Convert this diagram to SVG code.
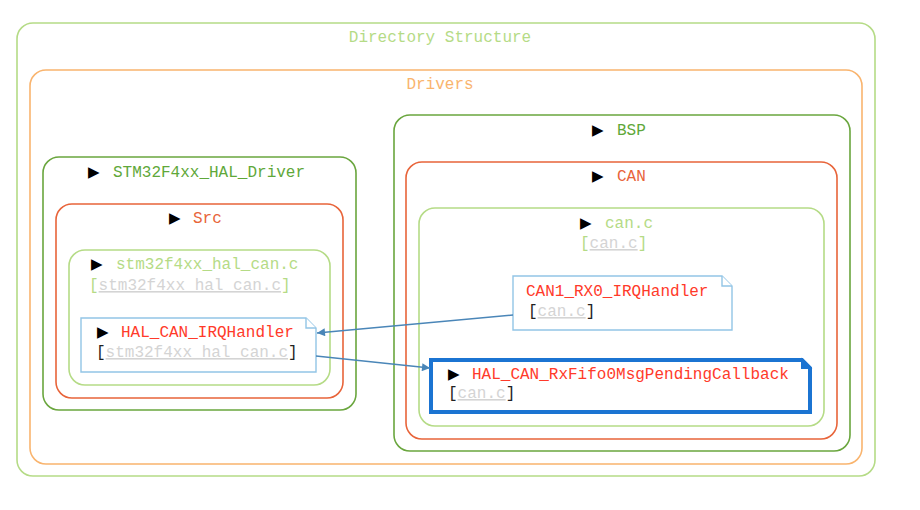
<svg xmlns="http://www.w3.org/2000/svg" width="920" height="510" viewBox="0 0 920 510">
<defs>
<style>
text{font-family:"Liberation Mono","DejaVu Sans Mono",monospace;font-size:16px}
.tri{font-family:"DejaVu Sans",sans-serif;font-size:15px;fill:#000}
.c-lg{fill:none;stroke:#b5db86;stroke-width:1.6}
.c-or{fill:none;stroke:#f9b46e;stroke-width:1.6}
.c-gr{fill:none;stroke:#6aa63e;stroke-width:1.6}
.c-rd{fill:none;stroke:#e8643a;stroke-width:1.6}
.note{fill:#fff;stroke:#92c5e6;stroke-width:1.4}
.note-hl{fill:#fff;stroke:#1b74d2;stroke-width:4}
.t-lg{fill:#b5db86}
.t-or{fill:#f9b46e}
.t-gr{fill:#5fa83a}
.t-rd{fill:#e8643a}
.t-fn{fill:#ff3a2a}
.fname{fill:#d4d4d4;text-decoration:underline}
.br{fill:#222}
.edge{fill:none;stroke:#4a86b8;stroke-width:1.4}
</style>
<marker id="arr" viewBox="0 0 10 10" refX="10" refY="5" markerWidth="10" markerHeight="8" markerUnits="userSpaceOnUse" orient="auto">
<path d="M0,0 L10,5 L0,10 Z" fill="#4a86b8"/>
</marker>
</defs>

<g id="directory-structure">
<rect class="c-lg" x="17" y="23" width="858" height="453" rx="16"/>
<text class="t-lg" x="440" y="42" text-anchor="middle">Directory Structure</text>
</g>

<g id="drivers">
<rect class="c-or" x="30" y="70" width="832" height="394" rx="16"/>
<text class="t-or" x="440" y="89" text-anchor="middle">Drivers</text>
</g>

<g id="stm32f4xx-hal-driver">
<rect class="c-gr" x="43" y="157" width="313" height="253" rx="16"/>
<text class="tri" x="88" y="177">▶</text>
<text class="t-gr" x="113" y="177">STM32F4xx_HAL_Driver</text>
</g>

<g id="src">
<rect class="c-rd" x="56" y="204" width="287" height="194" rx="16"/>
<text class="tri" x="169" y="223">▶</text>
<text class="t-rd" x="193" y="223">Src</text>
</g>

<g id="stm32f4xx-hal-can-c">
<rect class="c-lg" x="69" y="250" width="261" height="135" rx="16"/>
<text class="tri" x="91" y="269">▶</text>
<text class="t-lg" x="116" y="269">stm32f4xx_hal_can.c</text>
<text x="89" y="290"><tspan class="t-lg">[</tspan><tspan class="fname">stm32f4xx_hal_can.c</tspan><tspan class="t-lg">]</tspan></text>
</g>

<g id="hal-can-irqhandler">
<path class="note" d="M81,318 H306 L316,328 V372 H81 Z"/>
<path class="note" d="M306,318 V328 H316"/>
<text class="tri" x="97" y="337">▶</text>
<text class="t-fn" x="121" y="337">HAL_CAN_IRQHandler</text>
<text x="96" y="357"><tspan class="br">[</tspan><tspan class="fname">stm32f4xx_hal_can.c</tspan><tspan class="br">]</tspan></text>
</g>

<g id="bsp">
<rect class="c-gr" x="394" y="115" width="456" height="336" rx="16"/>
<text class="tri" x="592" y="135">▶</text>
<text class="t-gr" x="617" y="135">BSP</text>
</g>

<g id="can">
<rect class="c-rd" x="406" y="162" width="431" height="277" rx="16"/>
<text class="tri" x="592" y="181">▶</text>
<text class="t-rd" x="617" y="181">CAN</text>
</g>

<g id="can-c">
<rect class="c-lg" x="419" y="208" width="405" height="218" rx="16"/>
<text class="tri" x="580" y="228">▶</text>
<text class="t-lg" x="605" y="228">can.c</text>
<text x="580" y="248"><tspan class="t-lg">[</tspan><tspan class="fname">can.c</tspan><tspan class="t-lg">]</tspan></text>
</g>

<g id="can1-rx0-irqhandler">
<path class="note" d="M513,276 H722 L732,286 V330 H513 Z"/>
<path class="note" d="M722,276 V286 H732"/>
<text class="t-fn" x="526" y="296">CAN1_RX0_IRQHandler</text>
<text x="528" y="316"><tspan class="br">[</tspan><tspan class="fname">can.c</tspan><tspan class="br">]</tspan></text>
</g>

<g id="hal-can-rxfifo0msgpendingcallback">
<path class="note-hl" d="M431,360 H802 L810,368 V412 H431 Z"/>
<path d="M802,360 V368 H810 Z" fill="#1b74d2" stroke="#1b74d2" stroke-width="2"/>
<text class="tri" x="448" y="379">▶</text>
<text class="t-fn" x="472" y="379">HAL_CAN_RxFifo0MsgPendingCallback</text>
<text x="448" y="398"><tspan class="br">[</tspan><tspan class="fname">can.c</tspan><tspan class="br">]</tspan></text>
</g>

<g id="connectors">
<path class="edge" d="M513,315 L317,333" marker-end="url(#arr)"/>
<path class="edge" d="M316,356 L430,368" marker-end="url(#arr)"/>
</g>
</svg>
